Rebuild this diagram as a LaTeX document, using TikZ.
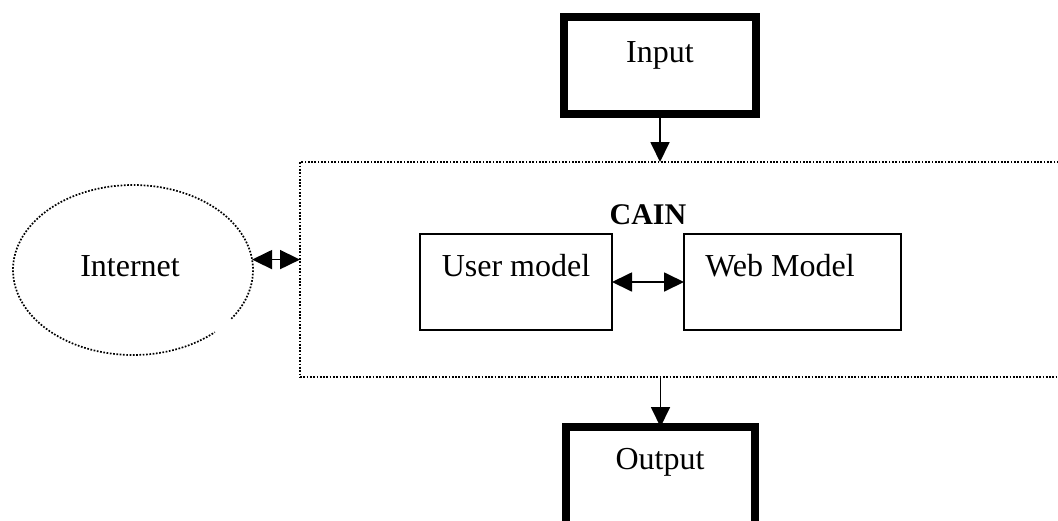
\documentclass[tikz,border=0pt]{standalone}
\usepackage{fontspec}
\setmainfont{Liberation Serif}
\usetikzlibrary{arrows.meta,shapes.geometric,calc}

\tikzset{
  every node/.style={inner sep=0pt, outer sep=0pt},
  iobox/.style={draw, line width=8pt, rectangle},
  modelbox/.style={draw, line width=1.5pt, rectangle, minimum width=#1, minimum height=96},
  dotline/.style={line width=1.7pt, dash pattern=on 1.7pt off 1.6pt},
  txt/.style={font=\fontsize{32}{38}\selectfont, anchor=base},
  flow/.style={line width=1.8pt, -{Triangle[length=20pt,width=19pt]}},
  both/.style={line width=1.8pt, {Triangle[length=20pt,width=19pt]}-{Triangle[length=20pt,width=19pt]}},
}

\begin{document}
\begin{tikzpicture}[x=1pt, y=-1pt]
  \useasboundingbox (0,0) rectangle (1058,520);
  \clip (0,0) rectangle (1058,520);
  \fill[white] (0,0) rectangle (1058,520);

  % input and output terminals
  \node[iobox, minimum width=192, minimum height=97] (inbox) at (660,65.5) {};
  \node[txt] (intext) at (660,62) {Input};

  \node[iobox, minimum width=189, minimum height=113] (outbox) at (660.5,483.5) {};
  \node[txt] (outtext) at (660,469) {Output};

  % CAIN system boundary (runs off to the right)
  \node[draw, dotline, rectangle, minimum width=780, minimum height=215] (cain) at (690,269.5) {};
  \node[font=\fontsize{30}{36}\selectfont\bfseries, anchor=base] (cainlabel) at (648,224) {CAIN};

  % internal models
  \node[modelbox=192] (user) at (516,282) {};
  \node[txt] (usertext) at (516,276) {User model};
  \node[modelbox=217] (web) at (792.5,282) {};
  \node[txt] (webtext) at (780,276) {Web Model};

  % Internet cloud, open at its lower right
  \node[ellipse, minimum width=240, minimum height=170] (inet) at (133,270) {};
  \node[txt] (inettext) at (130,276) {Internet};
  \draw[dotline] ($(inet.center)+(-35:120pt and 85pt)$)
    arc[start angle=-35, end angle=313, x radius=120pt, y radius=85pt];

  % connectors
  \draw[flow] (inbox.south) -- (inbox.south |- cain.north);
  \draw[flow] (outbox.north |- cain.south) -- (outbox.north);
  \draw[both] (user.east) -- (web.west);
  \draw[both] (inet.5) -- (inet.5 -| cain.west);
\end{tikzpicture}
\end{document}
